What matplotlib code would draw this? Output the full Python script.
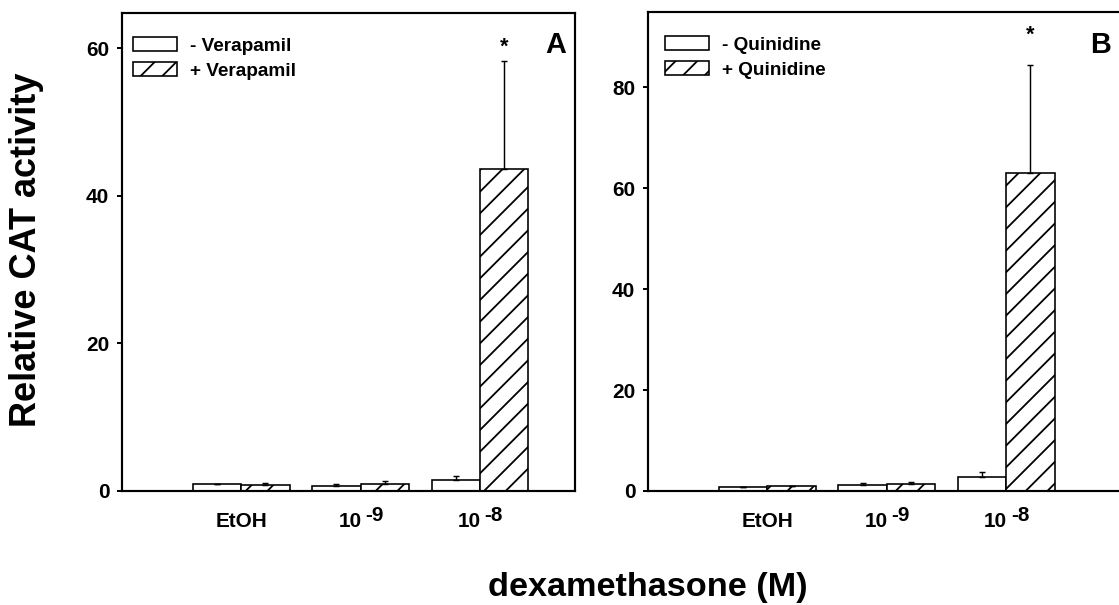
import matplotlib
matplotlib.use('Agg')
import matplotlib.pyplot as plt
import numpy as np
from matplotlib.patches import Patch

# ---------------- data ----------------
cat_base = ['EtOH', '10', '10']
cat_exp = ['', '-9', '-8']

a_minus = [0.95, 0.7, 1.5]
a_minus_err = [0.0, 0.2, 0.6]
a_plus = [0.8, 1.0, 43.6]
a_plus_err = [0.3, 0.35, 14.7]
a_star = 60.2
a_ticks = [0, 20, 40, 60]
a_labels = ['- Verapamil', '+ Verapamil']

b_minus = [0.85, 1.2, 2.8]
b_minus_err = [0.0, 0.4, 0.9]
b_plus = [1.05, 1.45, 63.0]
b_plus_err = [0.0, 0.4, 21.4]
b_star = 90.3
b_ticks = [0, 20, 40, 60, 80]
b_labels = ['- Quinidine', '+ Quinidine']

# ---------------- style ----------------
W, H, DPI = 1119, 605, 130
plt.rcParams['font.family'] = ['Liberation Sans', 'DejaVu Sans']
plt.rcParams['font.weight'] = 'bold'
plt.rcParams['hatch.linewidth'] = 1.0

fig = plt.figure(figsize=(W / DPI, H / DPI), dpi=DPI)


def px_axes(left, right, top, bottom):
    return fig.add_axes([left / W, 1 - bottom / H, (right - left) / W, (bottom - top) / H])


def panel(ax, minus, minus_err, plus, plus_err, star, ticks, ylim, xlim, labels,
          leg_xy):
    x = np.arange(1, len(cat_base) + 1)
    w = 0.405
    ekw = dict(ecolor='black', elinewidth=0.8, capsize=1.8, capthick=0.8)
    ax.bar(x - w / 2, minus, w, color='white', edgecolor='black', linewidth=0.9,
           yerr=[np.zeros(len(minus)), minus_err], error_kw=ekw, zorder=2)
    ax.bar(x + w / 2, plus, w, color='white', edgecolor='black', linewidth=0.9,
           hatch='//', yerr=[np.zeros(len(plus)), plus_err], error_kw=ekw, zorder=2)
    ax.text(x[-1] + w / 2, star, '*', ha='center', va='center', fontsize=12,
            fontweight='bold')
    ax.set_xlim(*xlim)
    ax.set_ylim(*ylim)
    ax.set_yticks(ticks)
    ax.set_yticklabels([str(t) for t in ticks], fontsize=11.5, fontweight='bold')
    ax.set_xticks(x)
    ax.set_xticklabels([''] * len(x))
    ax.tick_params(axis='x', length=0)
    ax.tick_params(axis='y', direction='out', length=3, width=1.1, pad=4)
    # category labels (base with raised exponent of the same size)
    for xi, base, exp in zip(x, cat_base, cat_exp):
        kw = dict(xy=(xi, 0), xycoords=('data', 'axes fraction'),
                  textcoords='offset points', va='baseline', fontsize=11.5,
                  fontweight='bold', annotation_clip=False)
        if exp:
            ax.annotate(base, xytext=(0.5, -20), ha='right', **kw)
            ax.annotate(exp, xytext=(2.6, -16.7), ha='left', **kw)
        else:
            ax.annotate(base, xytext=(0, -20), ha='center', **kw)
    for s in ax.spines.values():
        s.set_linewidth(1.2)
    handles = [Patch(facecolor='white', edgecolor='black', linewidth=0.9, label=labels[0]),
               Patch(facecolor='white', edgecolor='black', linewidth=0.9, hatch='//',
                     label=labels[1])]
    ax.legend(handles=handles, loc='upper left', frameon=False,
              bbox_to_anchor=(leg_xy[0] / W, 1 - leg_xy[1] / H),
              bbox_transform=fig.transFigure, borderpad=0, borderaxespad=0,
              handlelength=2.3, handleheight=0.75, handletextpad=0.7,
              labelspacing=0.4, prop=dict(size=10.5, weight='bold'))


axA = px_axes(122, 575, 13, 491)
panel(axA, a_minus, a_minus_err, a_plus, a_plus_err, a_star, a_ticks,
      (0, 64.8), (0, (575 - 122) / 119.3), a_labels, (133, 37))

axB = px_axes(648, 1125, 12, 491)
panel(axB, b_minus, b_minus_err, b_plus, b_plus_err, b_star, b_ticks,
      (0, 94.9), (0, (1125 - 648) / 119.4), b_labels, (665, 36))

fig.text(556 / W, 1 - 45 / H, 'A', ha='center', va='center', fontsize=16, fontweight='bold')
fig.text(1101 / W, 1 - 45 / H, 'B', ha='center', va='center', fontsize=16, fontweight='bold')

fig.text(27 / W, 1 - 250 / H, 'Relative CAT activity', rotation=90, ha='center',
         va='center', fontsize=20, fontweight='bold')
fig.text(648 / W, 1 - 596 / H, 'dexamethasone (M)', ha='center', va='baseline',
         fontsize=19, fontweight='bold')

fig.savefig('out.png', dpi=DPI)
